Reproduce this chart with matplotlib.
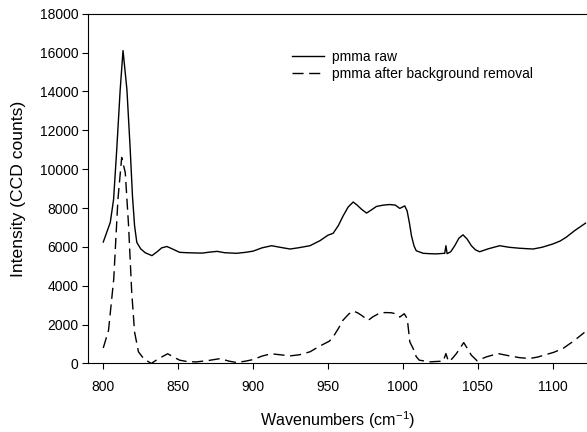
import numpy as np
import matplotlib
matplotlib.use("Agg")
import matplotlib.pyplot as plt

plt.rcParams['font.family'] = ['Liberation Sans', 'DejaVu Sans']
plt.rcParams['mathtext.fontset'] = 'custom'
plt.rcParams['mathtext.rm'] = 'Liberation Sans'
plt.rcParams['mathtext.it'] = 'Liberation Sans:italic'

# raw spectrum
wn_raw = [800, 804.7, 806.9, 809, 811.3, 813.2, 815.8, 818, 819.5, 820.9, 822.4, 825, 828,
          832.5, 836, 839, 842.5, 846, 851, 856, 860, 866, 871, 876, 881, 889, 895, 900,
          906, 912.4, 918, 924.7, 930, 938, 944.7, 950, 953.5, 957, 960.2, 963.5, 966.9,
          969.5, 972.4, 975.8, 979, 982.4, 987, 991.3, 995, 998, 1001.3, 1002.9, 1004.5,
          1005.8, 1007.5, 1009, 1013.6, 1018, 1022.4, 1028, 1028.8, 1029.6, 1032, 1034.7,
          1037.5, 1040.2, 1043, 1045.8, 1048.5, 1051.3, 1057, 1064.7, 1071, 1078, 1086.9,
          1093, 1100.2, 1105, 1109, 1115, 1122]
int_raw = [6250, 7260, 8450, 11010, 14090, 16100, 14090, 11010, 8620, 7090, 6230, 5900, 5700,
           5550, 5750, 5950, 6020, 5900, 5720, 5700, 5690, 5680, 5730, 5770, 5700, 5670, 5720, 5780,
           5950, 6060, 5980, 5890, 5950, 6060, 6320, 6600, 6700, 7100, 7600, 8050, 8310,
           8150, 7940, 7740, 7900, 8080, 8150, 8180, 8150, 7980, 8110, 7850, 7200,
           6570, 6050, 5800, 5670, 5650, 5640, 5670, 6060, 5650, 5750, 6060,
           6450, 6620, 6400, 6060, 5850, 5750, 5900, 6060, 5980, 5930, 5890,
           5980, 6150, 6300, 6490, 6850, 7220]

# after background removal
wn_bg = [800, 803.5, 807, 809.8, 812.3, 814.7, 816.9, 819, 820.9, 823.5, 827, 832, 837, 843,
         847, 851, 856, 862, 870, 878, 884, 889, 895, 900, 906, 912, 918, 924.7, 931, 938,
         944.7, 951, 953.5, 957, 960, 964, 967, 970, 972.4, 976.9, 980, 984.7, 988.5, 992.4,
         995.5, 998, 1001, 1003, 1004.7, 1006.9, 1009, 1011, 1018, 1027, 1028.8, 1030.5, 1033,
         1035.8, 1040.7, 1045.8, 1049.6, 1055.8, 1063.6, 1071.3, 1078, 1084.7, 1090, 1095.8,
         1101, 1106.9, 1114, 1121.3]
int_bg = [800, 1700, 4350, 8450, 10600, 9820, 7090, 3670, 1620, 600, 250, 0, 250, 500,
          330, 170, 100, 80, 150, 250, 120, 50, 120, 200, 380, 500, 450, 390, 450, 600,
          900, 1150, 1370, 1800, 2220, 2550, 2700, 2600, 2480, 2220, 2400, 2600, 2620, 2610,
          2550, 2390, 2560, 2300, 1110, 770, 350, 170, 85, 120, 510, 100, 250,
          510, 1075, 425, 140, 340, 510, 390, 300, 256, 330, 460,
          580, 770, 1150, 1600]

fig = plt.figure(figsize=(5.87, 4.32), dpi=100)
ax = fig.add_axes([0.1504, 0.1586, 0.8496, 0.8097])

ax.plot(wn_raw, int_raw, color='black', lw=1.0, label='pmma raw')
ax.plot(wn_bg, int_bg, color='black', lw=1.0, dashes=(8, 4),
        label='pmma after background removal')

ax.set_xlim(790, 1123)
ax.set_ylim(0, 18000)
ax.set_xticks(np.arange(800, 1101, 50))
ax.set_yticks(np.arange(0, 18001, 2000))
ax.tick_params(direction='out', length=4, width=0.8, labelsize=10)
ax.tick_params(axis='x', pad=8)
ax.tick_params(axis='y', pad=3)
ax.spines['right'].set_visible(False)

ax.set_xlabel('Wavenumbers (cm$^{-1}$)', fontsize=11.6)
ax.set_ylabel('Intensity (CCD counts)', fontsize=12.6)
ax.xaxis.set_label_coords(0.5, -0.13)
ax.yaxis.set_label_coords(-0.125, 0.5)

ax.legend(loc='upper left', bbox_to_anchor=(0.4974, 0.884), bbox_transform=fig.transFigure,
          frameon=False, fontsize=10, handlelength=2.3, handletextpad=0.58,
          borderpad=0, borderaxespad=0, labelspacing=0.2)

fig.savefig('out.png', dpi=100)
